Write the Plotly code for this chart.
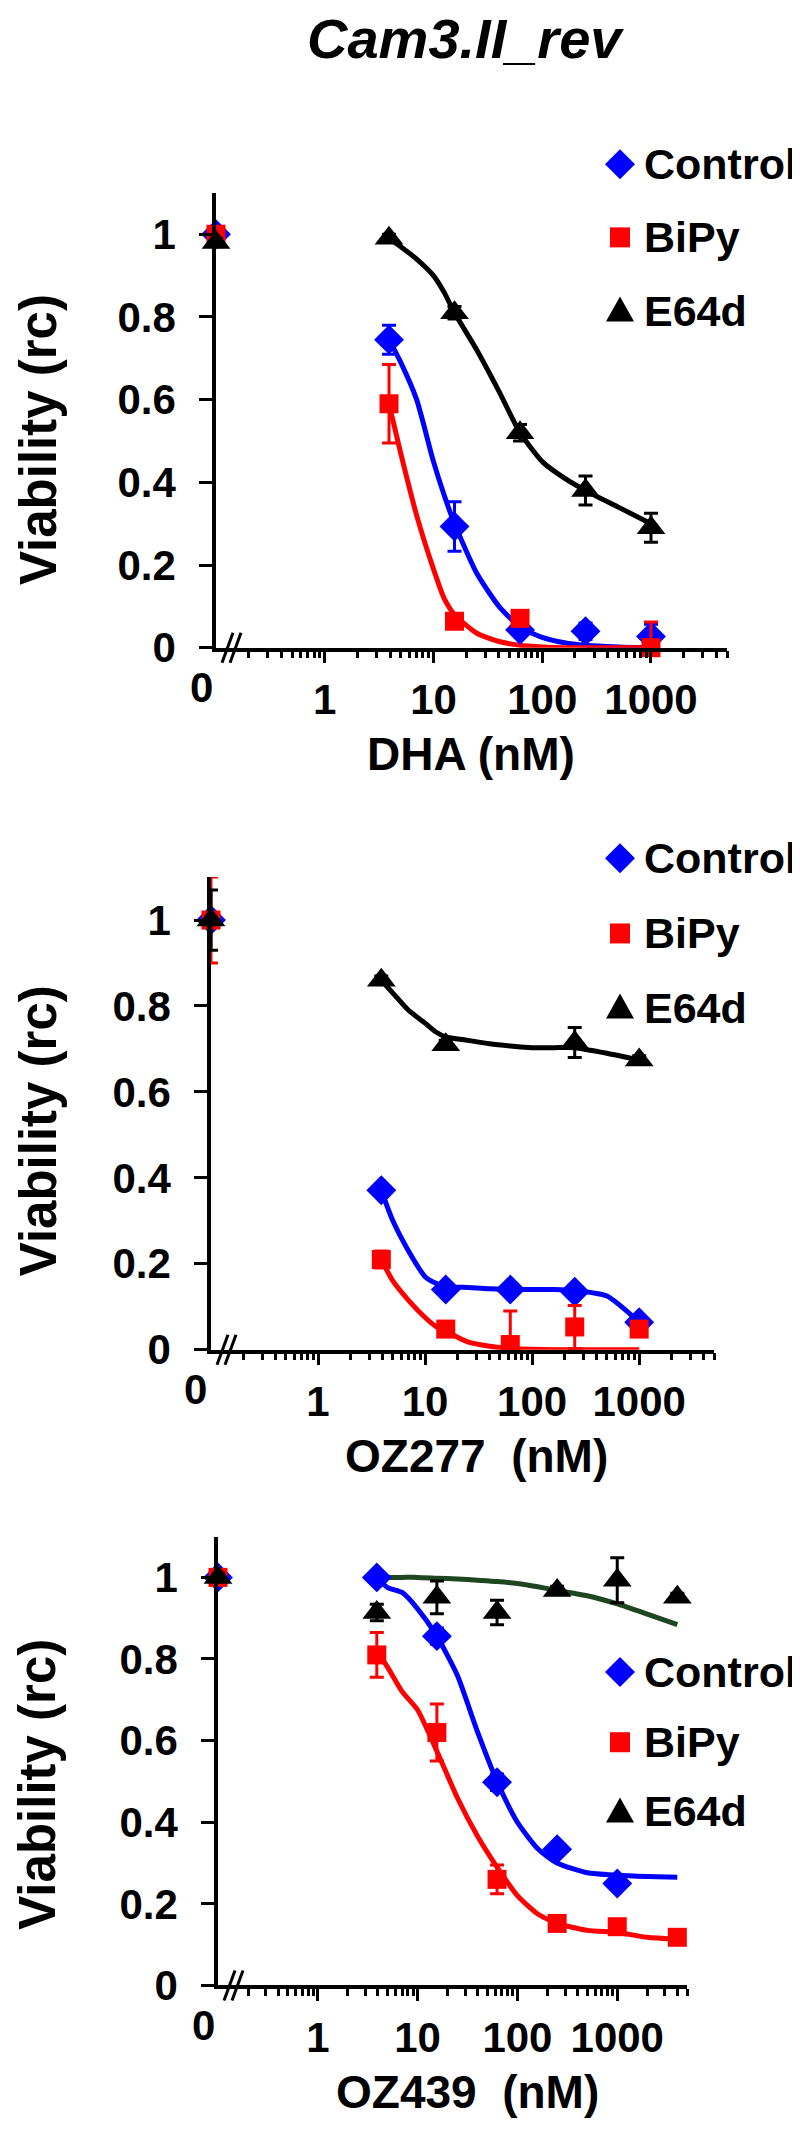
import math
import plotly.graph_objects as go

W, H = 800, 2129

TITLE = "Cam3.II_rev"
SERIES = ["Control", "BiPy", "E64d"]
COLORS = {"Control": "#0000FF", "BiPy": "#FF0000", "E64d": "#000000"}
SYMBOLS = {"Control": "diamond", "BiPy": "square", "E64d": "triangle-up"}
SIZES = {"Control": 23, "BiPy": 19, "E64d": 25}

x_tickvals = [1, 10, 100, 1000]
x_ticktext = ["1", "10", "100", "1000"]
y_tickvals = [0, 0.2, 0.4, 0.6, 0.8, 1]
y_ticktext = ["0", "0.2", "0.4", "0.6", "0.8", "1"]
X_ZERO = 0.1          # where the "0" dose sits (axis break)
X_MAX = 5000

# ---- DHA ----
dha_dose = [0, 3.9, 15.6, 62.5, 250, 1000]
dha_control = [1.0, 0.745, 0.293, 0.043, 0.04, 0.027]
dha_control_err = [0.01, 0.035, 0.06, 0.015, 0.02, 0.03]
dha_bipy = [1.0, 0.59, 0.064, 0.071, None, 0.0]
dha_bipy_err = [0.01, 0.095, 0.01, 0.01, 0.0, 0.062]
dha_e64d = [0.98, 0.99, 0.81, 0.52, 0.38, 0.29]
dha_e64d_err = [0.01, 0.01, 0.015, 0.02, 0.035, 0.035]

dha_fit_x = [3.9, 5, 7, 10, 12.5, 15.6, 25, 40, 62.5, 100, 160, 250, 500, 1000]
dha_fit_control = [0.745, 0.69, 0.60, 0.45, 0.37, 0.30, 0.18, 0.10, 0.05, 0.025, 0.012, 0.006, 0.002, 0.0]
dha_fit_bipy = [0.59, 0.47, 0.32, 0.19, 0.12, 0.08, 0.035, 0.015, 0.006, 0.002, 0.0, 0.0, 0.0, 0.0]
dha_fit_e64d = [0.99, 0.97, 0.94, 0.90, 0.86, 0.81, 0.72, 0.62, 0.52, 0.45, 0.41, 0.38, 0.34, 0.30]

# ---- OZ277 ----
oz277_dose = [0, 3.9, 15.6, 62.5, 250, 1000]
oz277_control = [1.0, 0.371, 0.14, 0.14, 0.135, 0.064]
oz277_control_err = [0.01, 0.01, 0.01, 0.01, 0.01, 0.01]
oz277_bipy = [1.0, 0.21, 0.048, 0.012, 0.053, 0.048]
oz277_bipy_err = [0.1, 0.02, 0.01, 0.078, 0.05, 0.01]
oz277_e64d = [1.0, 0.86, 0.71, None, 0.715, 0.674]
oz277_e64d_err = [0.07, 0.01, 0.01, 0.0, 0.035, 0.01]

oz277_fit_x = [3.9, 5, 7, 10, 12.5, 15.6, 25, 40, 62.5, 100, 160, 250, 500, 1000]
oz277_fit_control = [0.371, 0.30, 0.23, 0.17, 0.155, 0.146, 0.145, 0.142, 0.14, 0.14, 0.14, 0.138, 0.125, 0.064]
oz277_fit_bipy = [0.21, 0.16, 0.115, 0.075, 0.055, 0.043, 0.018, 0.008, 0.003, 0.001, 0.0, 0.0, 0.0, 0.0]
oz277_fit_e64d = [0.86, 0.83, 0.79, 0.76, 0.74, 0.728, 0.72, 0.712, 0.707, 0.703, 0.703, 0.703, 0.69, 0.674]

# ---- OZ439 ----
oz439_dose = [0, 3.9, 15.6, 62.5, 250, 1000, 4000]
oz439_control = [1.0, 1.0, 0.856, 0.498, 0.334, 0.25, None]
oz439_control_err = [0.01, 0.005, 0.02, 0.02, 0.01, 0.01, 0.0]
oz439_bipy = [1.0, 0.81, 0.62, 0.26, 0.152, 0.144, 0.118]
oz439_bipy_err = [0.01, 0.055, 0.07, 0.035, 0.01, 0.01, 0.01]
oz439_e64d = [1.0, 0.914, 0.951, 0.914, 0.968, 0.993, 0.951]
oz439_e64d_err = [0.01, 0.02, 0.04, 0.03, 0.01, 0.055, 0.01]

oz439_fit_x = [3.9, 5, 7, 10, 15.6, 25, 40, 62.5, 100, 160, 250, 500, 1000, 2000, 4000]
oz439_fit_control = [1.0, 0.975, 0.963, 0.923, 0.856, 0.76, 0.62, 0.50, 0.40, 0.335, 0.30, 0.276, 0.27, 0.267, 0.265]
oz439_fit_bipy = [0.82, 0.78, 0.72, 0.675, 0.574, 0.46, 0.365, 0.29, 0.22, 0.175, 0.152, 0.135, 0.13, 0.118, 0.113]
oz439_fit_e64d = [1.0, 1.0, 1.0, 1.0, 0.998, 0.996, 0.993, 0.99, 0.985, 0.977, 0.968, 0.955, 0.935, 0.91, 0.884]

panels = [
    dict(xlabel="DHA (nM)", dose=dha_dose, fit_x=dha_fit_x,
         vals={"Control": dha_control, "BiPy": dha_bipy, "E64d": dha_e64d},
         errs={"Control": dha_control_err, "BiPy": dha_bipy_err, "E64d": dha_e64d_err},
         fits={"Control": dha_fit_control, "BiPy": dha_fit_bipy, "E64d": dha_fit_e64d},
         e64d_line="#000000",
         px=(208, 719), py=(187, 647), xlab=(463, 754), ylab=437,
         legend=[158, 232, 306]),
    dict(xlabel="OZ277  (nM)", dose=oz277_dose, fit_x=oz277_fit_x,
         vals={"Control": oz277_control, "BiPy": oz277_bipy, "E64d": oz277_e64d},
         errs={"Control": oz277_control_err, "BiPy": oz277_bipy_err, "E64d": oz277_e64d_err},
         fits={"Control": oz277_fit_control, "BiPy": oz277_fit_bipy, "E64d": oz277_fit_e64d},
         e64d_line="#000000",
         px=(203, 706), py=(879, 1357), xlab=(468, 1465), ylab=1136,
         legend=[860, 936, 1011]),
    dict(xlabel="OZ439  (nM)", dose=oz439_dose, fit_x=oz439_fit_x,
         vals={"Control": oz439_control, "BiPy": oz439_bipy, "E64d": oz439_e64d},
         errs={"Control": oz439_control_err, "BiPy": oz439_bipy_err, "E64d": oz439_e64d_err},
         fits={"Control": oz439_fit_control, "BiPy": oz439_fit_bipy, "E64d": oz439_fit_e64d},
         e64d_line="#1E4620",
         px=(210, 679), py=(1546, 2000), xlab=(460, 2108), ylab=1797,
         legend=[1683, 1754, 1824]),
]

FONT = "Liberation Sans, Arial, sans-serif"
minor_vals = [m * 10 ** e for e in range(-1, 4) for m in range(2, 10) if m * 10 ** e <= X_MAX]

# legend keys as small pixel paths
legend_paths = {
    "Control": "M 0 15 L 15 0 L 0 -15 L -15 0 Z",
    "BiPy": "M -10 -10 L 10 -10 L 10 10 L -10 10 Z",
    "E64d": "M -14 -11 L 14 -11 L 0 14 Z",
}

fig = go.Figure()
annotations = []
shapes = []

for i, p in enumerate(panels, start=1):
    xa = "x" if i == 1 else f"x{i}"
    ya = "y" if i == 1 else f"y{i}"
    xplot = [X_ZERO if d == 0 else d for d in p["dose"]]

    # fitted curves
    for s in SERIES:
        col = p["e64d_line"] if s == "E64d" else COLORS[s]
        fig.add_trace(go.Scatter(
            x=p["fit_x"], y=p["fits"][s], mode="lines",
            line=dict(color=col, width=5, shape="spline", smoothing=0.6),
            xaxis=xa, yaxis=ya, showlegend=False, hoverinfo="skip"))

    # data points with error bars
    for s in SERIES:
        v = p["vals"][s]
        e = p["errs"][s]
        e_lo = [min(ee, vv) if vv is not None else 0 for vv, ee in zip(v, e)]
        fig.add_trace(go.Scatter(
            x=xplot, y=v, mode="markers", name=s,
            marker=dict(symbol=SYMBOLS[s], size=SIZES[s], color=COLORS[s],
                        line=dict(width=0)),
            error_y=dict(type="data", array=e, arrayminus=e_lo, symmetric=False,
                         color=COLORS[s], thickness=3, width=7),
            cliponaxis=False, xaxis=xa, yaxis=ya, showlegend=False))

    fig.update_layout({
        f"xaxis{'' if i == 1 else i}": dict(
            domain=[p["px"][0] / W, p["px"][1] / W], anchor=ya,
            type="log", range=[math.log10(X_ZERO), math.log10(X_MAX)],
            showline=True, linecolor="black", linewidth=3.5,
            ticks="outside", ticklen=12, tickwidth=3, tickcolor="black",
            tickmode="array", tickvals=x_tickvals, ticktext=x_ticktext,
            tickfont=dict(family=FONT, size=42, color="black", weight="bold"),
            ticklabelstandoff=0,
            minor=dict(tickmode="array", tickvals=minor_vals, ticks="outside",
                       ticklen=7, tickwidth=3, tickcolor="black", showgrid=False),
            showgrid=False, zeroline=False),
        f"yaxis{'' if i == 1 else i}": dict(
            domain=[1 - p["py"][1] / H, 1 - p["py"][0] / H], anchor=xa,
            range=[0, 1.1],
            showline=True, linecolor="black", linewidth=3.5,
            ticks="outside", ticklen=13, tickwidth=3, tickcolor="black",
            tickmode="array", tickvals=y_tickvals, ticktext=y_ticktext,
            tickfont=dict(family=FONT, size=42, color="black", weight="bold"),
            ticklabelstandoff=15,
            showgrid=False, zeroline=False),
    })

    # "0" label at the axis break
    annotations.append(dict(
        text="0", xref=f"{xa} domain", yref=f"{ya} domain", x=0, y=0,
        xshift=-15, yshift=-40, xanchor="center", yanchor="middle",
        showarrow=False, font=dict(family=FONT, size=42, color="black", weight="bold")))

    # axis break marks //
    for off in (6, 14):
        shapes.append(dict(
            type="line", xref=f"{xa} domain", yref=f"{ya} domain",
            xsizemode="pixel", ysizemode="pixel", xanchor=0, yanchor=0,
            x0=off, y0=-15, x1=off + 11, y1=15,
            line=dict(color="black", width=3)))

    # x and y titles
    annotations.append(dict(
        text=p["xlabel"], xref="paper", yref="paper",
        x=p["xlab"][0] / W, y=1 - p["xlab"][1] / H, xanchor="center", yanchor="middle",
        showarrow=False, font=dict(family=FONT, size=46, color="black", weight="bold")))
    annotations.append(dict(
        text="Viability (rc)", xref="paper", yref="paper", textangle=-90,
        x=30 / W, y=1 - p["ylab"] / H, xanchor="center", yanchor="middle",
        showarrow=False, font=dict(family=FONT, size=51, color="black", weight="bold")))

    # legend
    for s, yc in zip(SERIES, p["legend"]):
        shapes.append(dict(
            type="path", path=legend_paths[s], xref="paper", yref="paper",
            xsizemode="pixel", ysizemode="pixel", xanchor=612 / W, yanchor=1 - yc / H,
            fillcolor=COLORS[s], line=dict(width=0)))
        annotations.append(dict(
            text=s, xref="paper", yref="paper", x=634 / W, y=1 - yc / H,
            xanchor="left", yanchor="middle", showarrow=False,
            font=dict(family=FONT, size=43, color="black", weight="bold")))

annotations.append(dict(
    text=TITLE, xref="paper", yref="paper", x=457 / W, y=1 - 31 / H,
    xanchor="center", yanchor="middle", showarrow=False,
    font=dict(family=FONT, size=56, color="black", weight="bold", style="italic")))

fig.update_layout(
    width=W, height=H,
    margin=dict(l=0, r=0, t=0, b=0),
    paper_bgcolor="white", plot_bgcolor="white",
    showlegend=False,
    annotations=annotations, shapes=shapes,
)

fig.write_html("out.html")
